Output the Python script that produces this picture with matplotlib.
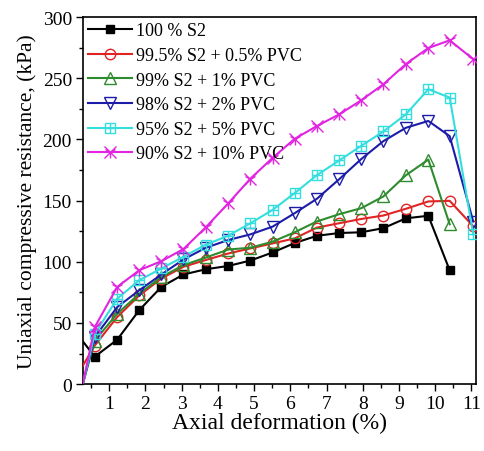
import matplotlib
matplotlib.use("Agg")
import matplotlib.pyplot as plt
from matplotlib.ticker import MultipleLocator

plt.rcParams['font.family'] = ['Liberation Serif', 'DejaVu Serif']
plt.rcParams['mathtext.fontset'] = 'stix'

x_all = [0.27, 0.6, 1.22, 1.83, 2.44, 3.05, 3.67, 4.29, 4.9, 5.51, 6.12,
         6.73, 7.35, 7.96, 8.57, 9.19, 9.81, 10.4, 11.05]

s100 = [35, 22.4, 36.3, 60.5, 79.5, 89.6, 93.9, 96.6, 101, 107.6, 115.3,
        121.2, 123.5, 124.1, 127.5, 135.5, 137.6, 93]
s995 = [15, 31.5, 54.8, 72.5, 86.3, 95.9, 101.5, 106.8, 110.9, 115, 119.1,
        127.9, 131.5, 135, 137.8, 143.3, 149.3, 149.8, 129]
s99 = [0, 35.6, 57.5, 73.9, 87.6, 97.2, 103.5, 110, 111.5, 116.4, 124.1,
       132.9, 138.9, 143.8, 153.4, 170.7, 183.5, 130.6]
s98 = [0, 38.4, 63, 76.7, 89.6, 101.9, 111.5, 117.8, 122.4, 128.7, 139.7,
       151.4, 167.5, 184, 198.6, 209.5, 215.1, 202.7, 132.9]
s95 = [0, 41.1, 69.8, 84.9, 94.5, 104.1, 114, 121.4, 131.5, 142.4, 156.1,
       170.7, 182.8, 194.8, 206.5, 220.5, 241, 234.2, 122.4]
s90 = [0, 46.6, 79.4, 93.1, 100.5, 110.4, 128.3, 147.9, 168, 184.9, 200.5,
       210.9, 220.5, 232, 245.1, 261.6, 274.7, 281, 265.6]

labels = ["100 % S2", "99.5% S2 + 0.5% PVC", "99% S2 + 1% PVC",
          "98% S2 + 2% PVC", "95% S2 + 5% PVC", "90% S2 + 10% PVC"]

fig = plt.figure(figsize=(4.84, 4.52), dpi=100)
ax = fig.add_axes([0.1715, 0.148, 0.8115, 0.812])

series = [
    (s100, 'black', 's', 6, 'black'),
    (s995, '#e02424', 'o', 7.5, 'none'),
    (s99, '#2e8b2e', '^', 8, 'none'),
    (s98, '#1c1ca8', 'v', 8.5, 'none'),
    (s95, '#35dede', 's', 7, 'none'),
    (s90, '#e024e0', 'x', 9, 'none'),
]

handles = []
for (ys, c, m, ms, fc), lab in zip(series, labels):
    xs = x_all[:len(ys)]
    ln, = ax.plot(xs, ys, color=c, lw=1.5, marker=m, ms=ms, mfc='black',
                  mec=c, mew=1.0, markevery=list(range(1, len(ys))), label=lab, zorder=3)
    if fc == 'none':
        ln.set_markerfacecolor('none')
    h = ln
    if c == '#35dede':
        pl, = ax.plot(xs[1:], ys[1:], ls='none', marker='+', ms=7, mec=c, mew=1.0, zorder=3)
        h = (ln, pl)
    if c == '#e024e0':
        pl, = ax.plot(xs[1:], ys[1:], ls='none', marker='1', ms=9, mec=c, mew=1.0, zorder=3)
        h = (ln, pl)
    handles.append(h)

ax.set_xlim(0.276, 11.12)
ax.set_ylim(0, 300)
ax.xaxis.set_major_locator(MultipleLocator(1))
ax.xaxis.set_minor_locator(MultipleLocator(0.5))
ax.yaxis.set_major_locator(MultipleLocator(50))
ax.yaxis.set_minor_locator(MultipleLocator(25))
ax.tick_params(which='major', direction='out', length=5, width=1, labelsize=14, pad=3)
ax.tick_params(which='minor', direction='out', length=3, width=1)
for sp in ax.spines.values():
    sp.set_linewidth(1.2)

ax.set_xlabel("Axial deformation (%)", fontsize=17, labelpad=0)
ax.set_ylabel("Uniaxial compressive resistance, (kPa)", fontsize=15.5, labelpad=4)

ax.legend(handles, labels, loc='upper left', frameon=False, fontsize=13,
          handlelength=2.4, handletextpad=0.25, labelspacing=0.42,
          borderaxespad=0.0, borderpad=0.3, bbox_to_anchor=(0.0, 1.0))

fig.savefig("out.png", dpi=100)
